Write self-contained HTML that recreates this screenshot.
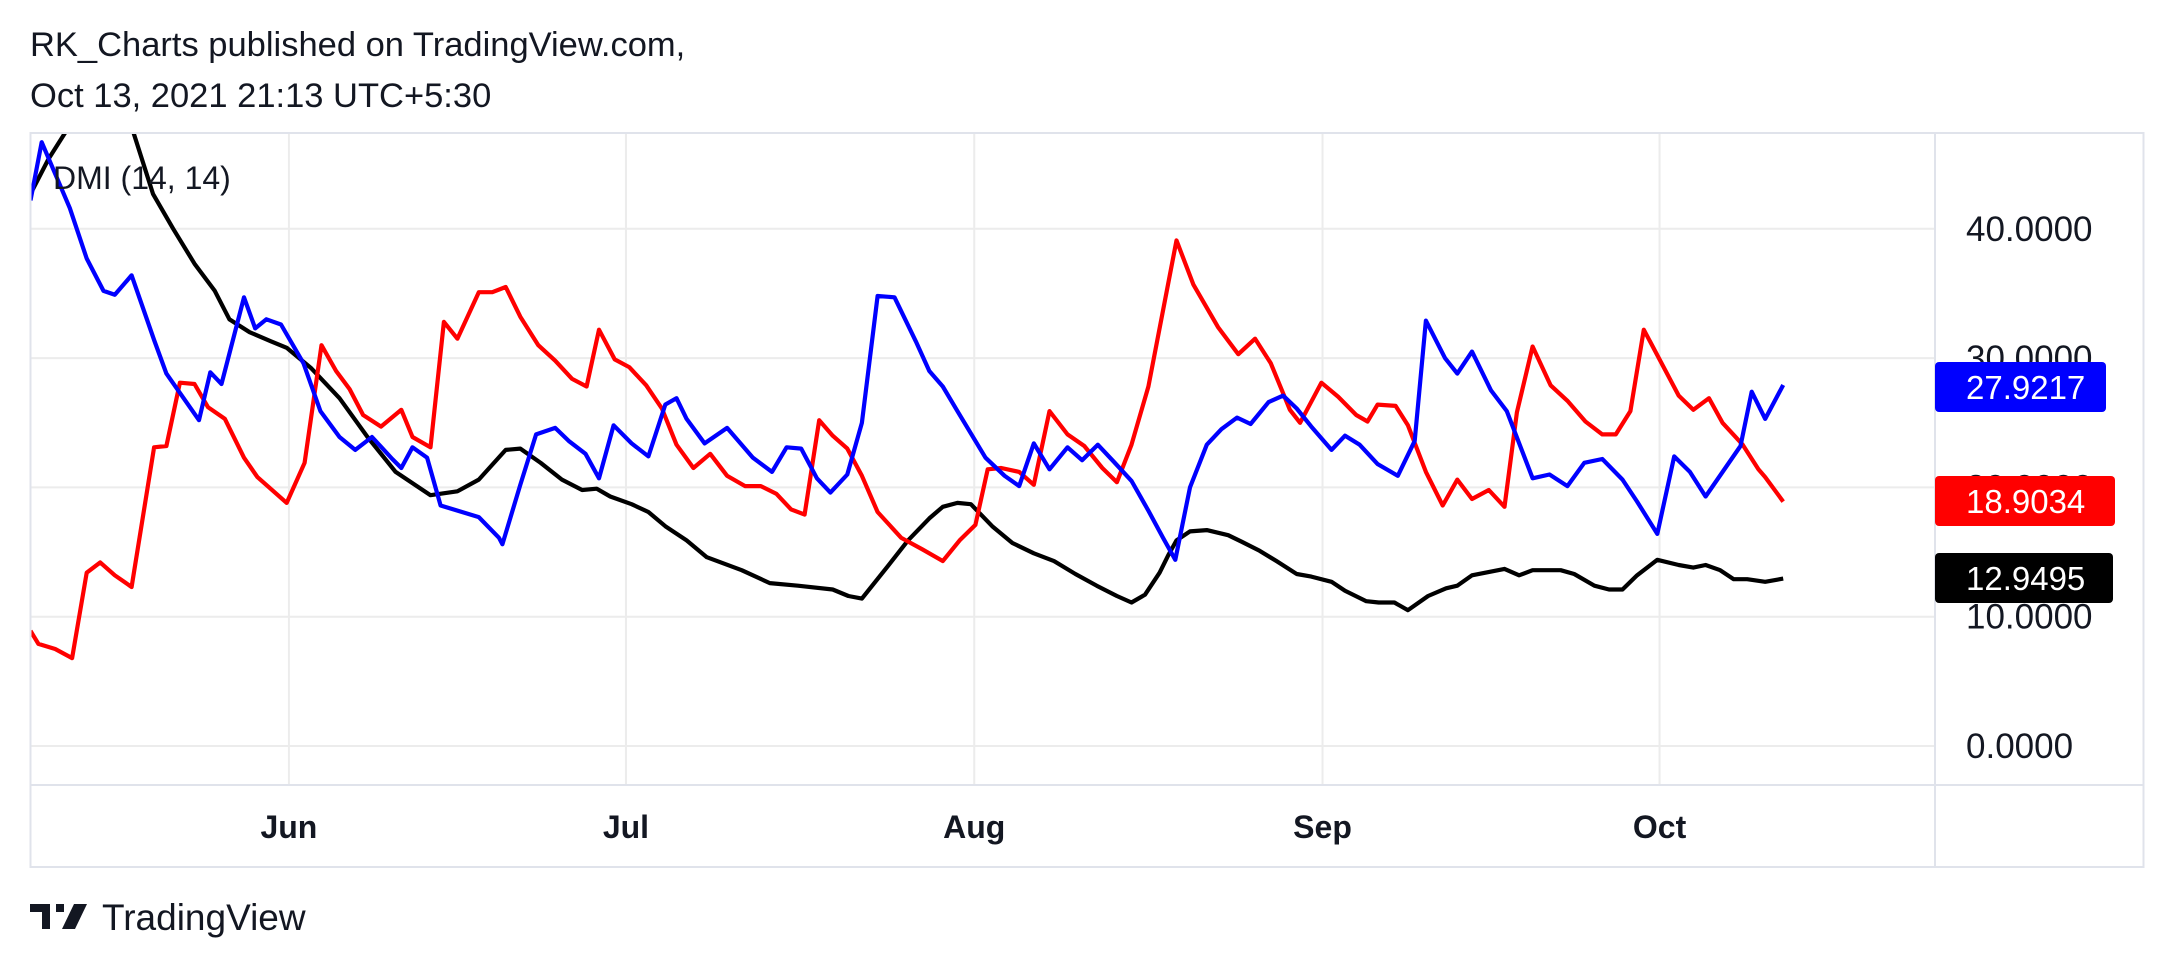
<!DOCTYPE html>
<html><head><meta charset="utf-8"><style>
html,body{margin:0;padding:0;background:#fff;}
svg{display:block;font-family:"Liberation Sans",sans-serif;}
</style></head><body>
<svg id="chart" width="2175" height="972" viewBox="0 0 2175 972">
<text x="30" y="56" font-size="34.5" fill="#131722">RK_Charts published on TradingView.com,</text>
<text x="30" y="107" font-size="34.5" fill="#131722">Oct 13, 2021 21:13 UTC+5:30</text>
<g id="grid"></g>
<defs><clipPath id="pc"><rect x="31" y="133" width="1904" height="652"/></clipPath></defs>
<g id="series" clip-path="url(#pc)"></g>
<rect x="30.5" y="133" width="2113" height="734" fill="none" stroke="#e0e3eb" stroke-width="2"/>
<line x1="1935" y1="133" x2="1935" y2="867" stroke="#e0e3eb" stroke-width="2"/>
<line x1="30.5" y1="785" x2="2143.5" y2="785" stroke="#e0e3eb" stroke-width="2"/>
<text x="53" y="189" font-size="32" fill="#131722">DMI (14, 14)</text>
<g id="yticks"></g>
<g id="xticks"></g>
<g id="labels"></g>
<g>
<path d="M30 904h20v25h-8v-17h-12z M56 904h8v8h-8z M74 904h13l-12 25h-13z" fill="#131722"/>
<text x="102" y="930" font-size="37" fill="#131722">TradingView</text>
</g>
</svg>
<script>
// Data: day index since May 9, 2021
const plusDays=[0,1,3.5,5,6.5,7.5,9,11,12.1,15,16,17,19,20,21,22.3,24.3,25.8,27.5,28.9,30.4,32.2,33,34,35.3,36.5,39.9,41.7,42,43.6,45,46.7,47.9,49.4,50.6,51.9,53.5,55,56.5,57.5,58.4,60,62,64.3,66,67.3,68.6,70,71.2,72.7,74,75.4,76.9,78.8,80,81.2,82.5,85,86.7,88,89.3,90.7,92.3,93.6,95,96.4,98,99.5,100.8,101.9,103.2,104.7,106,107.4,108.6,110.2,111.5,112.7,114,115.8,117,118.3,119.9,121.7,123.2,124.2,125.9,127,128.3,130,131.4,133.7,135.2,136.8,138.3,139.9,141.7,143,144.8,146.3,147.7,149.1,152.2,153.2,154.4,156];
const plusDI=[42.2,46.7,41.6,37.7,35.2,34.9,36.4,31.4,28.8,25.2,28.9,28.0,34.7,32.3,33.0,32.6,29.6,25.9,23.9,22.9,23.9,22.2,21.5,23.1,22.3,18.6,17.7,16.1,15.6,20.2,24.1,24.6,23.6,22.6,20.7,24.8,23.4,22.4,26.4,26.9,25.3,23.4,24.6,22.3,21.2,23.1,23.0,20.7,19.6,21.0,25.0,34.8,34.7,31.3,29.0,27.8,25.9,22.3,20.9,20.1,23.4,21.4,23.1,22.1,23.3,22.0,20.5,18.2,16.1,14.4,20.0,23.3,24.5,25.4,24.9,26.6,27.1,26.1,24.7,22.9,24.0,23.3,21.8,20.9,23.6,32.9,30.0,28.8,30.5,27.5,25.9,20.7,21.0,20.1,21.9,22.2,20.6,18.9,16.4,22.4,21.2,19.3,23.2,27.4,25.3,27.92];
const minusDays=[0,0.7,2.2,3.7,5,6.2,7.5,9,11,12.1,13.3,14.6,15.8,17.3,19,20.2,22.8,24.4,25.9,27.2,28.4,29.6,31.2,33,34,35.6,36.8,38,39.9,41.1,42.3,43.6,45.2,46.7,48.2,49.5,50.6,52,53.3,54.8,56.2,57.5,59,60.5,62,63.6,65,66.4,67.7,68.9,70.2,71.4,72.7,74,75.4,77.5,79.4,81.2,82.7,84.1,85.2,86.4,88,89.3,90.7,92.3,93.8,95.4,96.7,98,99.5,102,103.5,105.7,107.5,109,110.4,112.1,113,114.9,116.4,118,119,119.9,121.5,122.6,124.2,125.7,127,128.3,129.8,131.2,132.3,133.7,135.3,136.8,138.4,139.9,141.1,142.4,143.6,146.7,148,149.4,150.6,152.4,153.8,154.4,156];
const minusDI=[8.9,7.9,7.5,6.8,13.4,14.2,13.2,12.3,23.1,23.2,28.1,28.0,26.2,25.3,22.3,20.8,18.8,21.9,31.0,29.0,27.6,25.6,24.7,26.0,23.9,23.1,32.8,31.5,35.1,35.1,35.5,33.2,31.0,29.8,28.4,27.8,32.2,29.9,29.3,27.9,26.1,23.3,21.5,22.6,20.9,20.1,20.1,19.5,18.3,17.9,25.2,24.0,23.0,20.9,18.1,16.1,15.2,14.3,15.9,17.1,21.4,21.5,21.2,20.2,25.9,24.1,23.2,21.5,20.4,23.3,27.8,39.1,35.7,32.4,30.3,31.5,29.6,26.0,25.0,28.1,27.0,25.6,25.1,26.4,26.3,24.8,21.2,18.6,20.6,19.1,19.8,18.5,25.8,30.9,27.9,26.7,25.1,24.1,24.1,25.9,32.2,27.1,26.0,26.9,25.0,23.3,21.4,20.8,18.9];
const adxDays=[0,1.6,3.5,5,7.2,9,10.9,12.7,14.6,16.4,17.7,19.5,21.4,22.8,25,27.5,30,32.5,35.6,38,39.9,42.3,43.6,45.4,47.3,49.1,50.4,51.6,53.5,55,56.5,58.4,60.2,63.3,65.8,68.3,71.4,72.8,74,76.3,78.1,80,81.2,82.5,83.7,85.6,87.4,89.3,91.1,93,94.9,96.7,98,99.2,100.5,101.3,102,103.2,104.7,106.6,107.8,109.4,110.9,112.7,114,115.8,117,118.9,120,121.4,122.6,124.4,126,127,128.3,131.2,132.5,133.7,136.2,137.4,139.2,140.5,141.7,143,144.8,146.7,148,149.1,150.4,151.6,152.8,154.4,156];
const adx=[42.7,45.4,48.0,48.3,47.9,47.9,42.7,40.0,37.3,35.2,33.0,32.0,31.3,30.8,29.2,26.9,23.9,21.2,19.4,19.7,20.6,22.9,23.0,21.9,20.6,19.8,19.9,19.3,18.7,18.1,17.0,15.9,14.6,13.6,12.6,12.4,12.1,11.6,11.4,13.9,15.9,17.6,18.5,18.8,18.7,17.0,15.7,14.9,14.3,13.3,12.4,11.6,11.1,11.7,13.4,14.8,15.9,16.6,16.7,16.3,15.8,15.1,14.3,13.3,13.1,12.7,12.0,11.2,11.1,11.1,10.5,11.6,12.2,12.4,13.2,13.7,13.2,13.6,13.6,13.3,12.4,12.1,12.1,13.2,14.4,14.0,13.8,14.0,13.6,12.9,12.9,12.7,12.95];
const yTicks=[0,10,20,30,40];
const yTickLabels=["0.0000","10.0000","20.0000","30.0000","40.0000"];
const monthDays=[23,53,84,115,145];
const monthLabels=["Jun","Jul","Aug","Sep","Oct"];
const lastLabels=["27.9217","18.9034","12.9495"];
const lastValues=[27.9217,18.9034,12.9495];

const NS="http://www.w3.org/2000/svg";
const xs=d=>30.5+d*11.235;
const ys=v=>746-v*12.93;
function mk(tag,attrs,parent){const e=document.createElementNS(NS,tag);for(const k in attrs)e.setAttribute(k,attrs[k]);parent.appendChild(e);return e;}
const grid=document.getElementById('grid'),series=document.getElementById('series');
const yt=document.getElementById('yticks'),xt=document.getElementById('xticks'),lb=document.getElementById('labels');
yTicks.forEach((v,i)=>{
  const l=mk('line',{x1:31,x2:1935,y1:ys(v),y2:ys(v),stroke:'#ececec','stroke-width':2},grid);
  
  
  const t=mk('text',{x:1966,y:ys(v)+12,'font-size':35,fill:'#131722'},yt);
  t.textContent=yTickLabels[i];
  
  
});
monthDays.forEach((d,i)=>{
  const l=mk('line',{x1:xs(d),x2:xs(d),y1:133,y2:785,stroke:'#ececec','stroke-width':2},grid);
  
  
  const t=mk('text',{x:xs(d),y:838,'font-size':32,'font-weight':'bold',fill:'#131722','text-anchor':'middle'},xt);
  t.textContent=monthLabels[i];
  
  
});
function line(days,vals,color,name){
  const p=mk('polyline',{points:days.map((d,i)=>xs(d).toFixed(1)+','+ys(vals[i]).toFixed(1)).join(' '),fill:'none',stroke:color,'stroke-width':4.2,'stroke-linejoin':'round'},series);
  
  
}
line(adxDays,adx,'#000000','adx-line');
line(minusDays,minusDI,'#ff0000','minus-di-line');
line(plusDays,plusDI,'#0000ff','plus-di-line');
const boxColors=['#0000ff','#ff0000','#000000'];
const boxY=[362,476,553];
const boxW=[171,180,178];
const boxNames=['plus-di-value-label','minus-di-value-label','adx-value-label'];
lastLabels.forEach((s,i)=>{
  const r=mk('rect',{x:1935,y:boxY[i],width:boxW[i],height:50,rx:4,fill:boxColors[i]},lb);
  
  
  const t=mk('text',{x:1966,y:boxY[i]+37,'font-size':33,fill:'#ffffff'},lb);
  t.textContent=s;
  
  
});
</script>
</body></html>
